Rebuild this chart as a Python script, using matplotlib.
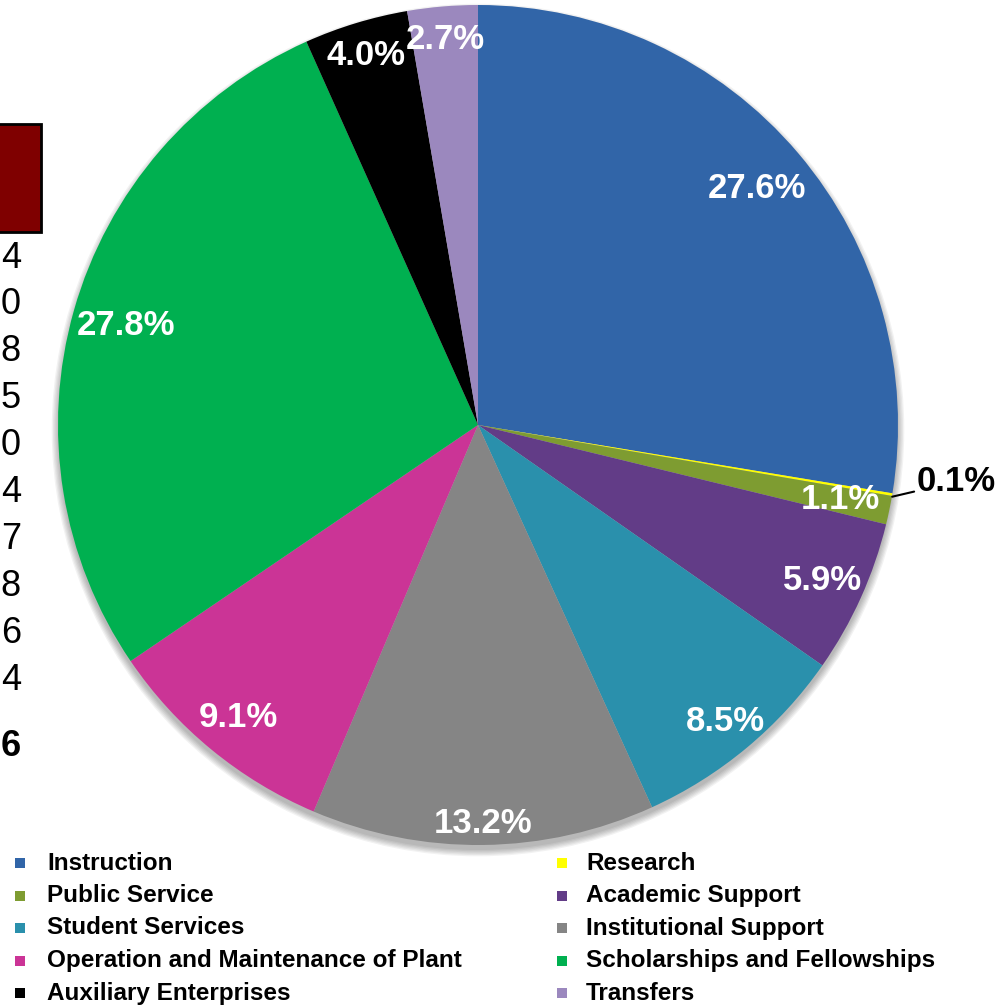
import matplotlib
matplotlib.use("Agg")
import matplotlib.pyplot as plt
from matplotlib.patches import Rectangle, Circle
import numpy as np

# --- data ---
categories = [
    "Instruction", "Research", "Public Service", "Academic Support",
    "Student Services", "Institutional Support",
    "Operation and Maintenance of Plant", "Scholarships and Fellowships",
    "Auxiliary Enterprises", "Transfers",
]
shares = [27.6, 0.1, 1.1, 5.9, 8.5, 13.2, 9.1, 27.8, 4.0, 2.7]
colors = ["#3165A8", "#FFFF00", "#7E9C31", "#623C87", "#2A90AC",
          "#858585", "#CB3496", "#00B050", "#000000", "#9B88BE"]
# digits left over from a cropped table at the left edge
side_digits = ["4", "0", "8", "5", "0", "4", "7", "8", "6", "4"]
side_total = "6"

W, H = 998, 1005
fig = plt.figure(figsize=(W / 100, H / 100), dpi=100)
fig.patch.set_facecolor("white")

# pie centre (478, 425) px, radius 420 px
cx, cy, R = 478, 425, 420
ax = fig.add_axes([(cx - R) / W, 1 - (cy + R) / H, 2 * R / W, 2 * R / H])

# soft drop shadow under the pie
for k in range(6):
    ax.add_patch(Circle((0, -0.012), 1.0 + 0.003 * k, facecolor="#000000",
                        alpha=0.05, edgecolor="none", zorder=0,
                        clip_on=False))

wedges, _ = ax.pie(shares, colors=colors, startangle=90, counterclock=False,
                   radius=1.0, wedgeprops=dict(linewidth=0))
for w in wedges:
    w.set_zorder(2)
ax.set_xlim(-1, 1)
ax.set_ylim(-1, 1)
ax.axis("off")

# percentage labels, radial distance tweaked per slice
label_r = [0.87, None, 0.88, 0.90, 0.92, 0.95, 0.90, 0.87, 0.92, 0.92]
for w, v, r in zip(wedges, shares, label_r):
    if r is None:
        continue
    ang = np.deg2rad((w.theta1 + w.theta2) / 2)
    ax.text(r * np.cos(ang), r * np.sin(ang), f"{v:.1f}%", color="white",
            fontsize=25, fontweight="bold", family="Liberation Sans",
            ha="center", va="center", zorder=5)

# tiny Research slice: label outside with leader line
w = wedges[1]
ang = np.deg2rad((w.theta1 + w.theta2) / 2)
ax.annotate(f"{shares[1]:.1f}%", xy=(np.cos(ang), np.sin(ang) - 0.005),
            xytext=(1.045, -0.135), fontsize=25, fontweight="bold",
            family="Liberation Sans", color="black", ha="left", va="center",
            arrowprops=dict(arrowstyle="-", color="black", lw=1.5,
                            shrinkA=0, shrinkB=0),
            annotation_clip=False, zorder=5)

# legend, two columns, drawn by hand
for i, (name, col) in enumerate(zip(categories, colors)):
    row, c = i // 2, i % 2
    y = 863 + row * 32.5
    mx = 15 if c == 0 else 557
    tx = 47 if c == 0 else 586
    fig.add_artist(Rectangle((mx / W, 1 - (y + 5) / H), 10 / W, 10 / H,
                             transform=fig.transFigure, facecolor=col,
                             edgecolor="none"))
    fig.text(tx / W, 1 - y / H, name, fontsize=17.5, fontweight="bold",
             family="Liberation Sans", ha="left", va="center")

# cropped table remnants at left edge
fig.add_artist(Rectangle((-2 / W, 1 - 232 / H), 43 / W, 108 / H,
                         transform=fig.transFigure, facecolor="#7F0000",
                         edgecolor="black", linewidth=2))
for k, d in enumerate(side_digits):
    y = 258 + k * 46.9
    fig.text(21 / W, 1 - y / H, d, fontsize=26, family="Liberation Sans",
             ha="right", va="center")
fig.text(21 / W, 1 - 746 / H, side_total, fontsize=26, fontweight="bold",
         family="Liberation Sans", ha="right", va="center")

fig.savefig("out.png", dpi=100)
